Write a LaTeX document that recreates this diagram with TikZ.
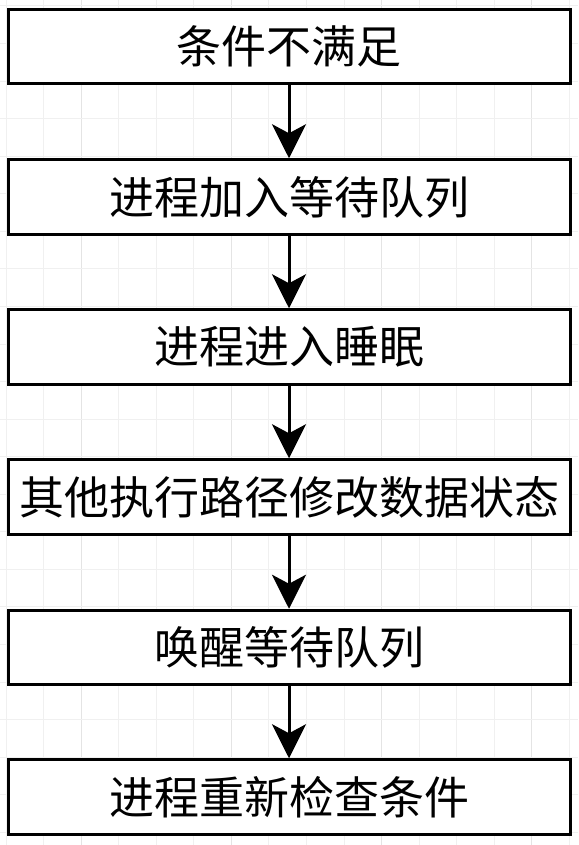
\documentclass[tikz,border=0pt]{standalone}
\usepackage{fontspec}
\newfontfamily\cjk{Noto Sans CJK SC}
\usetikzlibrary{arrows.meta}
\definecolor{gridminor}{HTML}{F0F0F0}
\definecolor{gridmajor}{HTML}{E4E4E4}
\tikzset{
  stepbox/.style={draw=black, line width=3pt, fill=white, minimum width=562pt, minimum height=74.5pt, inner sep=0pt, font=\cjk\fontsize{45}{48}\selectfont},
  flow/.style={line width=3pt, -{Stealth[length=34pt, width=34pt, inset=9pt]}}
}
\begin{document}
\begin{tikzpicture}[x=1pt,y=-1pt]
\useasboundingbox (0,0) rectangle (578,845);
\fill[white] (0,0) rectangle (578,845);
\foreach \k in {0,...,15} {
  \pgfmathsetmacro{\p}{6+37.56*\k}
  \pgfmathtruncatemacro{\m}{mod(\k,4)}
  \ifnum\m=2
    \draw[gridmajor, line width=1pt] (\p,0) -- (\p,845);
  \else
    \draw[gridminor, line width=1pt] (\p,0) -- (\p,845);
  \fi
}
\foreach \k in {0,...,22} {
  \pgfmathsetmacro{\p}{6+37.56*\k}
  \draw[gridminor, line width=1pt] (0,\p) -- (578,\p);
}
\node[stepbox] (s1) at (289,46.75) {\raisebox{2pt}{条件不满足}};
\node[stepbox] (s2) at (289,197) {\raisebox{2pt}{进程加入等待队列}};
\node[stepbox] (s3) at (289,347) {\raisebox{2pt}{进程进入睡眠}};
\node[stepbox] (s4) at (289,497) {\raisebox{2pt}{其他执行路径修改数据状态}};
\node[stepbox] (s5) at (289,647.5) {\raisebox{2pt}{唤醒等待队列}};
\node[stepbox] (s6) at (289,797) {\raisebox{2pt}{进程重新检查条件}};
\draw[flow] (s1) -- (s2);
\draw[flow] (s2) -- (s3);
\draw[flow] (s3) -- (s4);
\draw[flow] (s4) -- (s5);
\draw[flow] (s5) -- (s6);
\end{tikzpicture}
\end{document}
